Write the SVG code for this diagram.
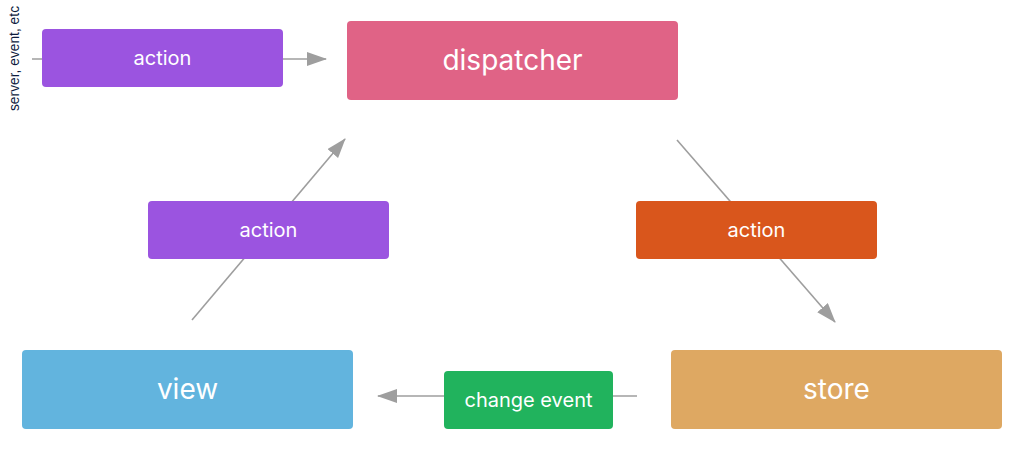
<svg xmlns="http://www.w3.org/2000/svg" width="1023" height="464" viewBox="0 0 1023 464">
<style>
.box{stroke:none}
.t{font-family:Inter,"Open Sans",sans-serif;fill:#ffffff;text-anchor:middle;dominant-baseline:central}
.s{font-size:20px}
.b{font-size:28px}
.c{stroke:#9e9e9e;stroke-width:1.6;fill:none}
</style>
<defs>
<marker id="ah" markerUnits="userSpaceOnUse" markerWidth="20" markerHeight="14" viewBox="0 0 20 14" refX="19" refY="7" orient="auto">
<path d="M0,0 L20,7 L0,14 Z" fill="#9e9e9e"/>
</marker>
</defs>
<rect width="1023" height="464" fill="#ffffff"/>
<g id="connectors">
<line class="c" x1="32" y1="59" x2="326" y2="59" marker-end="url(#ah)"/>
<line class="c" x1="192" y1="320" x2="345" y2="139" marker-end="url(#ah)"/>
<line class="c" x1="677" y1="140" x2="835" y2="322" marker-end="url(#ah)"/>
<line class="c" x1="637" y1="396" x2="378" y2="396" marker-end="url(#ah)"/>
</g>
<g id="source-label">
<text x="14" y="58.5" transform="rotate(-90 14 58.5)" font-family="'Liberation Sans',Arial,sans-serif" font-size="13.8" fill="#0d1b3d" text-anchor="middle" dominant-baseline="central">server, event, etc</text>
</g>
<g id="action-top">
<rect class="box" x="42" y="29" width="241" height="58" rx="4" fill="#9b54e0"/>
<text class="t s" x="162.5" y="58">action</text>
</g>
<g id="dispatcher">
<rect class="box" x="347" y="21" width="331" height="79" rx="4" fill="#e06386"/>
<text class="t b" x="512.5" y="60">dispatcher</text>
</g>
<g id="action-left">
<rect class="box" x="148" y="201" width="241" height="58" rx="4" fill="#9b54e0"/>
<text class="t s" x="268.5" y="230">action</text>
</g>
<g id="action-right">
<rect class="box" x="636" y="201" width="241" height="58" rx="4" fill="#d9561c"/>
<text class="t s" x="756.5" y="230">action</text>
</g>
<g id="view">
<rect class="box" x="22" y="350" width="331" height="79" rx="4" fill="#62b4de"/>
<text class="t b" x="187.5" y="389">view</text>
</g>
<g id="change-event">
<rect class="box" x="444" y="371" width="169" height="58" rx="4" fill="#21b35d"/>
<text class="t s" x="528.5" y="400">change event</text>
</g>
<g id="store">
<rect class="box" x="671" y="350" width="331" height="79" rx="4" fill="#dea862"/>
<text class="t b" x="836.5" y="389">store</text>
</g>
</svg>
